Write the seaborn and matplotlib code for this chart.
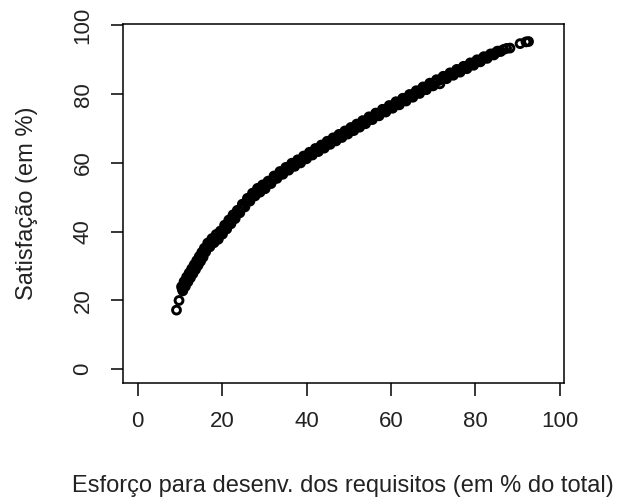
import matplotlib
matplotlib.use("Agg")
import matplotlib.pyplot as plt
import seaborn as sns
import pandas as pd

# Effort for requirements development (% of total) vs satisfaction (%)
# (the reference shows hundreds of overlapping open circles)
esforco = [
    9.2, 9.8,
    10.4, 10.7, 11.0, 11.3, 11.6, 11.9, 12.2, 12.5, 12.8, 13.1, 13.4, 13.7, 14.0, 14.3, 14.6, 14.9, 15.2, 15.5, 15.8,
    16.1, 16.6, 17.1, 17.6, 18.1, 18.6, 19.1, 19.6, 20.1, 20.6, 21.1, 21.6, 22.1, 22.6, 23.1,
    23.6, 24.2, 24.8, 25.4, 26.0, 26.6, 27.2, 27.8, 28.4, 29.0, 29.6, 30.2,
    30.9, 31.6, 32.3, 33.0, 33.7, 34.4, 35.1, 35.8, 36.5, 37.2, 37.9, 38.6,
    39.3, 40.0, 40.7, 41.4, 42.1, 42.8, 43.5, 44.2, 44.9, 45.6, 46.3, 47.0, 47.7, 48.4, 49.1, 49.8,
    50.5, 51.2, 51.9, 52.6, 53.3, 54.0,
    54.8, 55.6, 56.4, 57.2, 58.0, 58.8, 59.6, 60.4, 61.2, 62.0, 62.8, 63.6, 64.4, 65.2, 66.0, 66.8,
    67.6, 68.4, 69.2, 70.0,
    70.8, 71.6, 72.4, 73.2, 74.0, 74.8, 75.6, 76.4, 77.2, 78.0, 78.8, 79.6, 80.4, 81.2, 82.0, 82.8,
    83.6, 84.4, 85.2, 86.0,
    86.7, 87.4, 88.2, 90.6, 92.0, 92.6,
]
satisfacao = [
    17.2, 20.0,
    24.0, 22.8, 25.5, 24.1, 26.8, 25.4, 28.0, 26.6, 29.2, 27.8, 30.4, 29.0, 31.6, 30.2, 32.8, 31.4, 34.0, 32.6, 35.2,
    34.1, 36.7, 35.6, 38.0, 36.8, 39.2, 37.8, 40.2, 39.3, 41.9, 40.8, 43.4, 42.3, 44.9, 43.8,
    46.2, 45.5, 48.0, 47.2, 49.7, 48.9, 51.2, 50.4, 52.6, 51.5, 53.6, 52.5,
    54.7, 54.0, 56.2, 55.5, 57.5, 56.7, 58.7, 57.9, 59.9, 59.0, 60.9, 60.0,
    62.0, 61.2, 63.1, 62.3, 64.2, 63.3, 65.2, 64.3, 66.3, 65.4, 67.3, 66.4, 68.3, 67.4, 69.3, 68.4,
    70.3, 69.4, 71.3, 70.4, 72.3, 71.4,
    73.4, 72.6, 74.5, 73.7, 75.6, 74.8, 76.7, 75.9, 77.8, 76.9, 78.8, 78.0, 79.9, 79.1, 81.0, 80.2,
    82.1, 81.3, 83.2, 82.4,
    84.2, 83.0, 85.2, 84.5, 86.2, 85.5, 87.2, 86.4, 88.1, 87.4, 89.1, 88.4, 90.0, 89.4, 90.9, 90.4,
    91.7, 91.4, 92.5, 92.4,
    93.0, 93.3, 93.4, 94.7, 95.2, 95.3,
]
# further points lying in the middle of the dense band
esforco_meio = [
    10.55, 10.85, 11.15, 11.45, 11.75, 12.05, 12.35, 12.65, 12.95, 13.25, 13.55, 13.85, 14.15, 14.45,
    14.75, 15.05, 15.35, 15.65, 15.95,
    16.4, 16.9, 17.4, 17.9, 18.4, 18.9, 19.4, 19.9, 20.4, 20.9, 21.4, 21.9, 22.4, 22.9, 23.4,
    23.9, 24.5, 25.1, 25.7, 26.3, 26.9, 27.5, 28.1, 28.7, 29.3, 29.9, 30.55,
    31.3, 32.0, 32.7, 33.4, 34.1, 34.8, 35.5, 36.2, 36.9, 37.6, 38.3, 39.0,
    39.7, 40.4, 41.1, 41.8, 42.5, 43.2, 43.9, 44.6, 45.3, 46.0, 46.7, 47.4, 48.1, 48.8, 49.5,
    50.2, 50.9, 51.6, 52.3, 53.0, 53.7, 54.4,
    55.2, 56.0, 56.8, 57.6, 58.4, 59.2, 60.0, 60.8, 61.6, 62.4, 63.2, 64.0, 64.8, 65.6, 66.4,
    67.2, 68.0, 68.8, 69.6, 70.4,
    71.2, 72.0, 72.8, 73.6, 74.4, 75.2, 76.0, 76.8, 77.6, 78.4, 79.2, 80.0, 80.8, 81.6, 82.4,
    83.2, 84.0, 84.8, 85.6,
]
satisfacao_meio = [
    23.4, 24.2, 24.8, 25.5, 26.1, 26.7, 27.3, 27.9, 28.5, 29.1, 29.7, 30.3, 30.9, 31.5,
    32.1, 32.7, 33.3, 33.9, 34.6,
    35.4, 36.2, 36.8, 37.4, 38.0, 38.5, 39.0, 39.8, 40.6, 41.4, 42.1, 42.9, 43.6, 44.4, 45.0,
    45.9, 46.8, 47.6, 48.5, 49.3, 50.1, 50.8, 51.5, 52.1, 52.6, 53.1, 53.7,
    54.4, 55.1, 55.9, 56.5, 57.1, 57.7, 58.3, 58.9, 59.5, 60.0, 60.5, 61.0,
    61.6, 62.2, 62.7, 63.3, 63.8, 64.3, 64.8, 65.3, 65.9, 66.4, 66.9, 67.4, 67.9, 68.4, 68.9,
    69.4, 69.9, 70.4, 70.9, 71.4, 71.9, 72.4,
    73.0, 73.6, 74.1, 74.7, 75.2, 75.8, 76.3, 76.9, 77.4, 77.9, 78.4, 79.0, 79.5, 80.1, 80.6,
    81.2, 81.7, 82.3, 82.8, 83.4,
    83.9, 84.4, 84.9, 85.4, 85.9, 86.4, 86.8, 87.3, 87.8, 88.3, 88.8, 89.3, 89.7, 90.2, 90.7,
    91.1, 91.6, 92.0, 92.5,
]
x_ticks = [0, 20, 40, 60, 80, 100]
y_ticks = [0, 20, 40, 60, 80, 100]
x_label = "Esforço para desenv. dos requisitos (em % do total)"
y_label = "Satisfação (em %)"

df = pd.DataFrame({"x": esforco + esforco_meio, "y": satisfacao + satisfacao_meio})

sns.set_theme(style="ticks")
plt.rcParams["font.family"] = ["Liberation Sans", "DejaVu Sans"]

fig = plt.figure(figsize=(6.18, 4.97), dpi=100)
fig.patch.set_facecolor("white")
ax = fig.add_axes([0.1985, 0.2294, 0.7141, 0.7223])

sns.scatterplot(data=df, x="x", y="y", ax=ax, marker="o", s=32,
                facecolors="none", edgecolor="black", linewidth=2.1, legend=False)

ax.set_xlim(-3.55, 101.0)
ax.set_ylim(-4.0, 100.4)
ax.set_xticks(x_ticks)
ax.set_yticks(y_ticks)
ax.set_xticklabels([str(t) for t in x_ticks])
ax.set_yticklabels([str(t) for t in y_ticks], rotation=90, va="center")

for s in ax.spines.values():
    s.set_visible(True)
    s.set_color("black")
    s.set_linewidth(1.1)

ax.tick_params(axis="both", direction="out", length=9, width=1.1, color="black",
               labelsize=16, labelcolor="#222222")
ax.tick_params(axis="x", pad=11)
ax.tick_params(axis="y", pad=12)

ax.set_xlabel(x_label, fontsize=17, color="#222222", labelpad=31)
ax.set_ylabel(y_label, fontsize=17, color="#222222", labelpad=25)
ax.grid(False)

fig.savefig("out.png", dpi=100, facecolor="white")
